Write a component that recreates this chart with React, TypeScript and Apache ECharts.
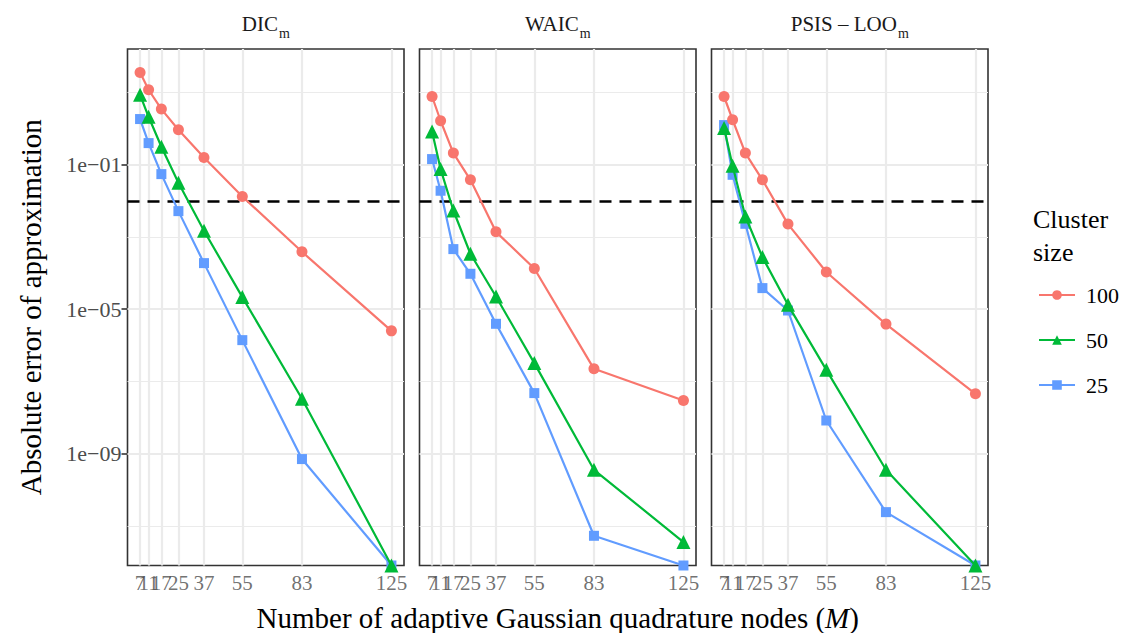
import React, { useEffect, useRef } from "react";
import * as echarts from "echarts";

// Number of adaptive Gaussian quadrature nodes (M)
const nodes = [7, 11, 17, 25, 37, 55, 83, 125];
const clusterSizes = ["100", "50", "25"];

// Absolute approximation error per criterion and cluster size.
// A value of 0 means the error vanished; like -Inf on a log scale it sits on the panel floor.
const dic100 = [36.1, 12.0, 3.49, 0.933, 0.16, 0.0132, 3.89e-4, 2.51e-6];
const dic50 = [8.69, 2.14, 0.316, 0.0317, 1.49e-3, 2.16e-5, 3.31e-8, 0];
const dic25 = [1.85, 0.399, 0.0552, 5.21e-3, 1.89e-4, 1.39e-6, 7.05e-10, 0];

const waic100 = [7.8, 1.66, 0.211, 0.0384, 1.39e-3, 1.34e-4, 2.23e-7, 2.96e-8];
const waic50 = [0.836, 0.076, 5.42e-3, 3.43e-4, 2.25e-5, 3.21e-7, 3.56e-10, 3.55e-12];
const waic25 = [0.144, 0.0191, 4.62e-4, 9.57e-5, 3.94e-6, 4.74e-8, 5.28e-12, 0];

const loo100 = [7.8, 1.77, 0.211, 0.0384, 2.28e-3, 1.07e-4, 3.86e-6, 4.54e-8];
const loo50 = [1.04, 0.0938, 3.7e-3, 2.77e-4, 1.32e-5, 2.09e-7, 3.56e-10, 0];
const loo25 = [1.26, 0.0528, 2.32e-3, 3.84e-5, 9.2e-6, 8.26e-9, 2.39e-11, 0];

const panelTitles = [
  ["DIC", "m"],
  ["WAIC", "m"],
  ["PSIS \u2013 LOO", "m"],
];
const panelData: Record<string, number[]>[] = [
  { "100": dic100, "50": dic50, "25": dic25 },
  { "100": waic100, "50": waic50, "25": waic25 },
  { "100": loo100, "50": loo50, "25": loo25 },
];

const threshold = 0.01;
const yBreaks = [1e-1, 1e-5, 1e-9];
const yMinorBreaks = [1e1, 1e-3, 1e-7, 1e-11];

const colors: Record<string, string> = { "100": "#F8766D", "50": "#00BA38", "25": "#619CFF" };
const symbols: Record<string, string> = { "100": "circle", "50": "triangle", "25": "rect" };
const symbolSizes: Record<string, number> = { "100": 11, "50": 14, "25": 10 };

const FONT = "'Liberation Serif', 'DejaVu Serif', serif";

// Panel geometry
const PANEL_LEFT = [127.5, 419.5, 711.5];
const PANEL_WIDTH = 276.5;
const PANEL_TOP = 49;
const PANEL_HEIGHT = 516.5;

function buildOption() {
  // log10 range with 5% expansion on both sides
  const logs: number[] = [];
  panelData.forEach((p) =>
    Object.values(p).forEach((arr) => arr.forEach((v) => v > 0 && logs.push(Math.log10(v))))
  );
  const lo = Math.min(...logs);
  const hi = Math.max(...logs);
  const yMin = lo - 0.05 * (hi - lo);
  const yMax = hi + 0.05 * (hi - lo);
  const xLo = Math.min(...nodes);
  const xHi = Math.max(...nodes);
  const xMin = xLo - 0.05 * (xHi - xLo);
  const xMax = xHi + 0.05 * (xHi - xLo);
  const toY = (v: number) => (v > 0 ? Math.log10(v) : yMin);

  const yMajor = yBreaks.map((v) => Math.log10(v));
  const yMinor = yMinorBreaks.map((v) => Math.log10(v));

  const fmt = (v: number) => {
    const e = Math.round(v);
    return "1e" + (e < 0 ? "\u2212" : "+") + String(Math.abs(e)).padStart(2, "0");
  };

  const grids: any[] = [];
  const xAxes: any[] = [];
  const yAxes: any[] = [];
  const series: any[] = [];
  const graphics: any[] = [];

  for (let p = 0; p < 3; p++) {
    grids.push({
      left: PANEL_LEFT[p],
      top: PANEL_TOP,
      width: PANEL_WIDTH,
      height: PANEL_HEIGHT,
      show: true,
      borderColor: "#333333",
      borderWidth: 1.6,
      backgroundColor: "transparent",
    });
    xAxes.push({
      type: "value",
      gridIndex: p,
      min: xMin,
      max: xMax,
      axisLine: { show: false },
      splitLine: { show: false },
      axisTick: {
        show: true,
        customValues: nodes,
        length: 6,
        lineStyle: { color: "#333333", width: 1.6 },
      },
      // tick labels are drawn by the label series below so that crowded ones all stay visible
      axisLabel: { show: false },
    });
    yAxes.push({
      type: "value",
      gridIndex: p,
      min: yMin,
      max: yMax,
      axisLine: { show: false },
      splitLine: { show: false },
      axisTick: {
        show: p === 0,
        customValues: yMajor,
        length: 6,
        lineStyle: { color: "#333333", width: 1.6 },
      },
      axisLabel: {
        show: p === 0,
        customValues: yMajor,
        formatter: (v: number) => fmt(v),
        color: "#4D4D4D",
        fontSize: 22,
        fontFamily: FONT,
        margin: 6,
      },
    });

    // background grid lines
    series.push({
      type: "line",
      xAxisIndex: p,
      yAxisIndex: p,
      data: [],
      silent: true,
      z: 1,
      markLine: {
        silent: true,
        z: 1,
        symbol: "none",
        label: { show: false },
        animation: false,
        data: [
          ...yMinor.map((v) => ({ yAxis: v, lineStyle: { color: "#EBEBEB", width: 1.2, type: "solid" } })),
          ...yMajor.map((v) => ({ yAxis: v, lineStyle: { color: "#EBEBEB", width: 2.2, type: "solid" } })),
          ...nodes.map((v) => ({ xAxis: v, lineStyle: { color: "#EBEBEB", width: 2.2, type: "solid" } })),
        ],
      },
    });

    // threshold
    series.push({
      type: "line",
      xAxisIndex: p,
      yAxisIndex: p,
      data: [],
      silent: true,
      z: 2,
      markLine: {
        silent: true,
        z: 2,
        symbol: "none",
        label: { show: false },
        animation: false,
        data: [{ yAxis: Math.log10(threshold) }],
        lineStyle: { color: "#000000", width: 2.6, type: [12, 8] },
      },
    });

    // x tick labels, placed at the node values along the panel floor
    series.push({
      type: "scatter",
      xAxisIndex: p,
      yAxisIndex: p,
      silent: true,
      clip: false,
      z: 2,
      symbolSize: 1,
      itemStyle: { color: "rgba(0,0,0,0)" },
      data: nodes.map((x) => [x, yMin]),
      label: {
        show: true,
        position: "bottom",
        distance: 6,
        formatter: (prm: any) => String(prm.value[0]),
        color: "#4D4D4D",
        fontSize: 21,
        fontFamily: FONT,
      },
      labelLayout: { hideOverlap: false },
    });

    // data, drawn smallest cluster first
    ["25", "50", "100"].forEach((k, i) => {
      const vals = panelData[p][k];
      series.push({
        type: "line",
        name: k,
        xAxisIndex: p,
        yAxisIndex: p,
        z: 3 + i,
        data: nodes.map((x, j) => [x, toY(vals[j])]),
        symbol: symbols[k],
        symbolSize: symbolSizes[k],
        showAllSymbol: true,
        color: colors[k],
        itemStyle: { color: colors[k], borderWidth: 0, opacity: 1 },
        lineStyle: { color: colors[k], width: 2.2 },
        emphasis: { disabled: true },
      });
    });

    // facet strip title
    graphics.push({
      type: "text",
      x: PANEL_LEFT[p] + PANEL_WIDTH / 2,
      y: 37,
      style: {
        text: `{b|${panelTitles[p][0]}}{s|${panelTitles[p][1]}}`,
        textAlign: "center",
        textVerticalAlign: "bottom",
        rich: {
          b: { fontSize: 21, fontFamily: FONT, fill: "#1A1A1A", lineHeight: 24, verticalAlign: "top" },
          s: {
            fontSize: 14,
            fontFamily: FONT,
            fill: "#1A1A1A",
            lineHeight: 14,
            padding: [13, 0, 0, 1],
            verticalAlign: "top",
          },
        },
      },
    });
  }

  const panelsMid = (PANEL_LEFT[0] + PANEL_LEFT[2] + PANEL_WIDTH) / 2;

  graphics.push(
    {
      type: "text",
      x: panelsMid,
      y: 618,
      style: {
        text: "{n|Number of adaptive Gaussian quadrature nodes (}{i|M}{n|)}",
        textAlign: "center",
        textVerticalAlign: "middle",
        rich: {
          n: { fontSize: 29, fontFamily: FONT, fill: "#000000" },
          i: { fontSize: 29, fontFamily: FONT, fontStyle: "italic", fill: "#000000" },
        },
      },
    },
    {
      type: "text",
      x: 31,
      y: PANEL_TOP + PANEL_HEIGHT / 2,
      rotation: Math.PI / 2,
      style: {
        text: "Absolute error of approximation",
        textAlign: "center",
        textVerticalAlign: "middle",
        fontSize: 29,
        fontFamily: FONT,
        fill: "#000000",
      },
    },
    {
      type: "text",
      x: 1033,
      y: 219,
      style: {
        text: "Cluster",
        textAlign: "left",
        textVerticalAlign: "middle",
        fontSize: 26,
        fontFamily: FONT,
        fill: "#000000",
      },
    },
    {
      type: "text",
      x: 1033,
      y: 252,
      style: {
        text: "size",
        textAlign: "left",
        textVerticalAlign: "middle",
        fontSize: 26,
        fontFamily: FONT,
        fill: "#000000",
      },
    }
  );

  return {
    animation: false,
    backgroundColor: "#FFFFFF",
    grid: grids,
    xAxis: xAxes,
    yAxis: yAxes,
    series,
    graphic: graphics,
    legend: {
      data: clusterSizes,
      orient: "vertical",
      left: 1033,
      top: 279,
      itemWidth: 36,
      itemHeight: 12,
      itemGap: 23,
      selectedMode: false,
      textStyle: { fontFamily: FONT, fontSize: 22, color: "#000000", padding: [0, 0, 0, 6] },
    },
  };
}

export default function App() {
  const ref = useRef<HTMLDivElement>(null);
  useEffect(() => {
    if (!ref.current) return;
    const chart = echarts.init(ref.current, undefined, { renderer: "svg" });
    chart.setOption(buildOption() as any);
    return () => chart.dispose();
  }, []);
  return (
    <div
      ref={ref}
      style={{ position: "fixed", left: 0, top: 0, width: 1122, height: 633, background: "#fff" }}
    />
  );
}
